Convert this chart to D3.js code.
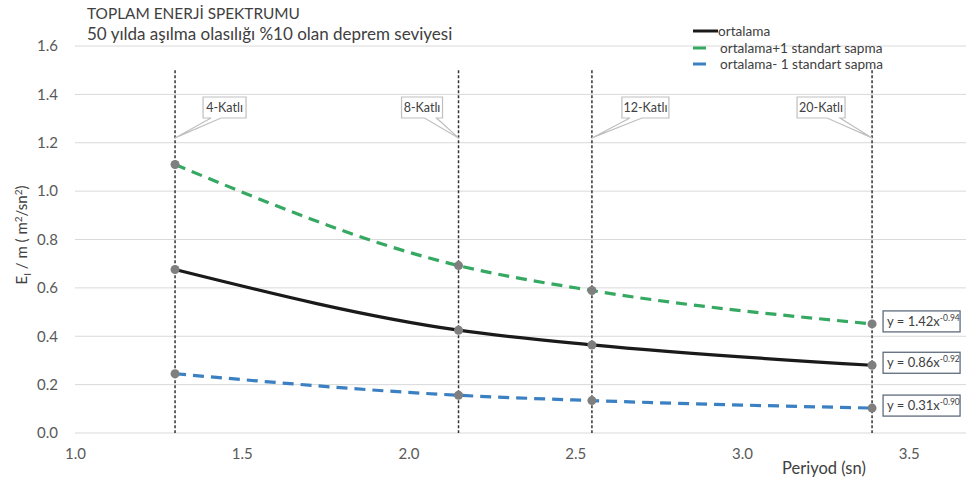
<!DOCTYPE html>
<html>
<head>
<meta charset="utf-8">
<script src="https://cdn.jsdelivr.net/npm/d3@7"></script>
<style>
  body { margin: 0; background: #fff; }
  svg { display: block; font-family: Lato, "Open Sans", sans-serif; }
</style>
</head>
<body>
<script>
// chart values
const periods = [1.3, 2.15, 2.55, 3.39];
const storyLabels = ["4-Katlı", "8-Katlı", "12-Katlı", "20-Katlı"];
const meanVals = [0.676, 0.425, 0.364, 0.280];
const plusVals = [1.110, 0.692, 0.589, 0.451];
const minusVals = [0.245, 0.156, 0.134, 0.103];
const eqCoef = ["0.86", "1.42", "0.31"];
const eqExp = ["-0.92", "-0.94", "-0.90"];
const seriesNames = ["ortalama", "ortalama+1 standart sapma", "ortalama- 1 standart sapma"];
const yTicks = [0, 0.2, 0.4, 0.6, 0.8, 1.0, 1.2, 1.4, 1.6];
const xTicks = [1.0, 1.5, 2.0, 2.5, 3.0, 3.5];
const markerTop = 1.5;

const cfg = {
  width: 971,
  height: 481,
  left: 75,
  right: 966,
  top: 46,
  bottom: 433
};

const svg = d3.select("body").append("svg")
  .attr("width", cfg.width)
  .attr("height", cfg.height);

const x = d3.scaleLinear().domain([1.0, 3.5]).range([cfg.left, cfg.left + 2.5 * 333.5]);
const y = d3.scaleLinear().domain([0, 1.6]).range([cfg.bottom, cfg.top]);

// gridlines
svg.append("g")
  .selectAll("line")
  .data(yTicks)
  .enter()
  .append("line")
  .attr("x1", cfg.left)
  .attr("x2", cfg.right)
  .attr("y1", d => y(d))
  .attr("y2", d => y(d))
  .attr("stroke", "#d9d9d9")
  .attr("stroke-width", 1);

// axes (labels only)
const yAxis = svg.append("g")
  .attr("transform", "translate(" + cfg.left + ",0)")
  .call(d3.axisLeft(y).tickValues(yTicks).tickFormat(d3.format(".1f")).tickSize(0).tickPadding(17));
const xAxis = svg.append("g")
  .attr("transform", "translate(0," + cfg.bottom + ")")
  .call(d3.axisBottom(x).tickValues(xTicks).tickFormat(d3.format(".1f")).tickSize(0).tickPadding(15));
[xAxis, yAxis].forEach(g => {
  g.select(".domain").remove();
  g.selectAll("text").attr("fill", "#595959").style("font-size", "15px").style("font-family", "Lato, sans-serif");
});

// vertical story markers
svg.append("g")
  .selectAll("line")
  .data(periods)
  .enter()
  .append("line")
  .attr("x1", d => x(d))
  .attr("x2", d => x(d))
  .attr("y1", y(markerTop))
  .attr("y2", y(0))
  .attr("stroke", "#333")
  .attr("stroke-width", 1.5)
  .attr("stroke-dasharray", "3,2");

// series
const series = [
  { vals: meanVals, color: "#1a1a1a", dash: null },
  { vals: plusVals, color: "#35a862", dash: "11,7" },
  { vals: minusVals, color: "#3a80c2", dash: "11,7" }
];
const line = d3.line()
  .x((d, i) => x(periods[i]))
  .y(d => y(d))
  .curve(d3.curveMonotoneX);

series.forEach(s => {
  svg.append("path")
    .datum(s.vals)
    .attr("d", line)
    .attr("fill", "none")
    .attr("stroke", s.color)
    .attr("stroke-width", 3.2)
    .attr("stroke-dasharray", s.dash);
});
series.forEach(s => {
  svg.append("g")
    .selectAll("circle")
    .data(s.vals)
    .enter()
    .append("circle")
    .attr("cx", (d, i) => x(periods[i]))
    .attr("cy", d => y(d))
    .attr("r", 4.5)
    .attr("fill", "#7f7f7f");
});

// callouts for stories
const callOff = [
  { dx: 28, w: 43, b1: 36, b2: 46 },
  { dx: -57, w: 41, b1: -34, b2: -22 },
  { dx: 30, w: 47, b1: 38, b2: 50 },
  { dx: -75, w: 48, b1: -45, b2: -32 }
];
const boxTop = 97, boxH = 21;
periods.forEach((p, i) => {
  const o = callOff[i];
  const tx = x(p), ty = y(1.22);
  const bx = tx + o.dx, by = boxTop;
  const path = d3.path();
  path.moveTo(bx, by);
  path.lineTo(bx + o.w, by);
  path.lineTo(bx + o.w, by + boxH);
  const a = Math.max(tx + o.b1, tx + o.b2), b = Math.min(tx + o.b1, tx + o.b2);
  path.lineTo(a, by + boxH);
  path.lineTo(tx, ty);
  path.lineTo(b, by + boxH);
  path.lineTo(bx, by + boxH);
  path.closePath();
  svg.append("path")
    .attr("d", path.toString())
    .attr("fill", "#fff")
    .attr("stroke", "#bfbfbf")
    .attr("stroke-width", 1.2);
  svg.append("text")
    .attr("x", bx + o.w / 2)
    .attr("y", by + 15)
    .attr("text-anchor", "middle")
    .attr("fill", "#404040")
    .style("font-size", "12.5px")
    .text(storyLabels[i]);
});

// trendline equations
const lastIdx = periods.length - 1;
series.forEach((s, k) => {
  const px = x(periods[lastIdx]) + 11;
  const cy = y(s.vals[lastIdx]) - 3;
  const g = svg.append("g");
  g.append("rect")
    .attr("x", px)
    .attr("y", cy - 10)
    .attr("width", 77)
    .attr("height", 21)
    .attr("fill", "#fff")
    .attr("stroke", "#5f6b7d")
    .attr("stroke-width", 1.3);
  const t = g.append("text")
    .attr("x", px + 4)
    .attr("y", cy + 5)
    .attr("fill", "#404040")
    .style("font-size", "13px");
  t.append("tspan").text("y = " + eqCoef[k] + "x");
  t.append("tspan").attr("dy", -5).style("font-size", "8.5px").text(eqExp[k]);
});

// titles
const title = svg.append("g").attr("fill", "#404040");
title.append("text").attr("x", 87).attr("y", 19).style("font-size", "15.4px").text("TOPLAM ENERJİ SPEKTRUMU");
title.append("text").attr("x", 87).attr("y", 40).style("font-size", "17px").text("50 yılda aşılma olasılığı %10 olan deprem seviyesi");

svg.append("text")
  .attr("x", 782)
  .attr("y", 474)
  .attr("fill", "#404040")
  .style("font-size", "16.5px")
  .text("Periyod (sn)");

const yl = svg.append("text")
  .attr("transform", "translate(27,235) rotate(-90)")
  .attr("text-anchor", "middle")
  .attr("fill", "#404040")
  .style("font-size", "15px");
yl.append("tspan").text("E");
yl.append("tspan").attr("dy", 4).style("font-size", "10px").text("I");
yl.append("tspan").attr("dy", -4).text(" / m  ( m");
yl.append("tspan").attr("dy", -5).style("font-size", "10px").text("2");
yl.append("tspan").attr("dy", 5).text("/sn");
yl.append("tspan").attr("dy", -5).style("font-size", "10px").text("2");
yl.append("tspan").attr("dy", 5).text(")");

// legend
const legend = svg.append("g").attr("transform", "translate(693,0)");
const legY = [31, 48, 64];
series.forEach((s, k) => {
  legend.append("line")
    .attr("x1", 0)
    .attr("x2", k === 0 ? 25 : 13)
    .attr("y1", legY[k])
    .attr("y2", legY[k])
    .attr("stroke", s.color)
    .attr("stroke-width", 3);
  legend.append("text")
    .attr("x", k === 0 ? 25 : 27)
    .attr("y", legY[k] + 4.5)
    .attr("fill", "#404040")
    .style("font-size", "13.6px")
    .text(seriesNames[k]);
});
</script>
</body>
</html>
